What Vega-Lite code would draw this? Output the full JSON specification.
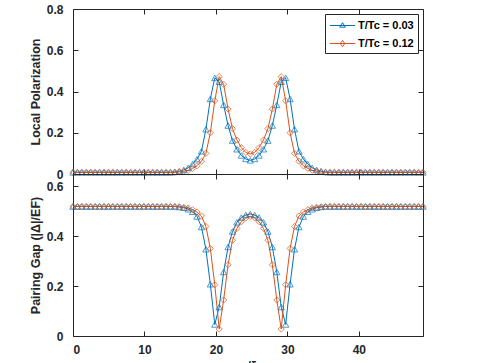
{
  "$schema": "https://vega.github.io/schema/vega-lite/v6.json",
  "background": "white",
  "padding": {"left": 28, "top": 2, "right": 0, "bottom": 0},
  "bounds": "flush",
  "spacing": 0,
  "config": {
    "font": "Liberation Sans",
    "view": {"stroke": "#262626", "strokeWidth": 1},
    "axis": {"domain": false, "grid": false, "tickSize": -5, "tickColor": "#262626", "tickWidth": 1,
      "labelFont": "Liberation Sans", "labelFontSize": 12, "labelFontWeight": "bold", "labelColor": "#262626",
      "titleFont": "Liberation Sans", "titleFontSize": 12.5, "titleFontWeight": "bold", "titleColor": "#262626"},
    "axisY": {"labelPadding": 15, "titlePadding": 4},
    "axisX": {"labelPadding": 13, "titlePadding": 4}
  },
  "data": {"values": [
    {"x":0,"series":"T/Tc = 0.03","pol":0.008,"gap":0.518},
    {"x":0.62,"series":"T/Tc = 0.03","pol":0.008,"gap":0.518},
    {"x":1.24,"series":"T/Tc = 0.03","pol":0.008,"gap":0.518},
    {"x":1.86,"series":"T/Tc = 0.03","pol":0.008,"gap":0.518},
    {"x":2.48,"series":"T/Tc = 0.03","pol":0.008,"gap":0.518},
    {"x":3.1,"series":"T/Tc = 0.03","pol":0.008,"gap":0.518},
    {"x":3.72,"series":"T/Tc = 0.03","pol":0.008,"gap":0.518},
    {"x":4.34,"series":"T/Tc = 0.03","pol":0.008,"gap":0.518},
    {"x":4.96,"series":"T/Tc = 0.03","pol":0.008,"gap":0.518},
    {"x":5.58,"series":"T/Tc = 0.03","pol":0.008,"gap":0.518},
    {"x":6.2,"series":"T/Tc = 0.03","pol":0.008,"gap":0.518},
    {"x":6.82,"series":"T/Tc = 0.03","pol":0.008,"gap":0.518},
    {"x":7.44,"series":"T/Tc = 0.03","pol":0.008,"gap":0.518},
    {"x":8.06,"series":"T/Tc = 0.03","pol":0.008,"gap":0.518},
    {"x":8.68,"series":"T/Tc = 0.03","pol":0.008,"gap":0.518},
    {"x":9.3,"series":"T/Tc = 0.03","pol":0.008,"gap":0.518},
    {"x":9.92,"series":"T/Tc = 0.03","pol":0.008,"gap":0.518},
    {"x":10.54,"series":"T/Tc = 0.03","pol":0.008,"gap":0.518},
    {"x":11.16,"series":"T/Tc = 0.03","pol":0.008,"gap":0.518},
    {"x":11.78,"series":"T/Tc = 0.03","pol":0.008,"gap":0.518},
    {"x":12.4,"series":"T/Tc = 0.03","pol":0.008,"gap":0.518},
    {"x":13.02,"series":"T/Tc = 0.03","pol":0.008,"gap":0.518},
    {"x":13.64,"series":"T/Tc = 0.03","pol":0.008,"gap":0.518},
    {"x":14.26,"series":"T/Tc = 0.03","pol":0.010,"gap":0.518},
    {"x":14.88,"series":"T/Tc = 0.03","pol":0.014,"gap":0.516},
    {"x":15.5,"series":"T/Tc = 0.03","pol":0.020,"gap":0.513},
    {"x":16.12,"series":"T/Tc = 0.03","pol":0.030,"gap":0.507},
    {"x":16.74,"series":"T/Tc = 0.03","pol":0.048,"gap":0.497},
    {"x":17.36,"series":"T/Tc = 0.03","pol":0.072,"gap":0.478},
    {"x":17.98,"series":"T/Tc = 0.03","pol":0.110,"gap":0.436},
    {"x":18.6,"series":"T/Tc = 0.03","pol":0.217,"gap":0.347},
    {"x":19.22,"series":"T/Tc = 0.03","pol":0.364,"gap":0.207},
    {"x":19.84,"series":"T/Tc = 0.03","pol":0.466,"gap":0.046},
    {"x":20.46,"series":"T/Tc = 0.03","pol":0.447,"gap":0.116},
    {"x":21.08,"series":"T/Tc = 0.03","pol":0.335,"gap":0.256},
    {"x":21.7,"series":"T/Tc = 0.03","pol":0.235,"gap":0.356},
    {"x":22.32,"series":"T/Tc = 0.03","pol":0.162,"gap":0.418},
    {"x":22.94,"series":"T/Tc = 0.03","pol":0.120,"gap":0.455},
    {"x":23.56,"series":"T/Tc = 0.03","pol":0.090,"gap":0.474},
    {"x":24.18,"series":"T/Tc = 0.03","pol":0.073,"gap":0.484},
    {"x":24.8,"series":"T/Tc = 0.03","pol":0.066,"gap":0.488},
    {"x":25.42,"series":"T/Tc = 0.03","pol":0.073,"gap":0.484},
    {"x":26.04,"series":"T/Tc = 0.03","pol":0.090,"gap":0.474},
    {"x":26.66,"series":"T/Tc = 0.03","pol":0.120,"gap":0.455},
    {"x":27.28,"series":"T/Tc = 0.03","pol":0.162,"gap":0.418},
    {"x":27.9,"series":"T/Tc = 0.03","pol":0.235,"gap":0.356},
    {"x":28.52,"series":"T/Tc = 0.03","pol":0.335,"gap":0.256},
    {"x":29.14,"series":"T/Tc = 0.03","pol":0.447,"gap":0.116},
    {"x":29.76,"series":"T/Tc = 0.03","pol":0.466,"gap":0.046},
    {"x":30.38,"series":"T/Tc = 0.03","pol":0.364,"gap":0.207},
    {"x":31,"series":"T/Tc = 0.03","pol":0.217,"gap":0.347},
    {"x":31.62,"series":"T/Tc = 0.03","pol":0.110,"gap":0.436},
    {"x":32.24,"series":"T/Tc = 0.03","pol":0.072,"gap":0.478},
    {"x":32.86,"series":"T/Tc = 0.03","pol":0.048,"gap":0.497},
    {"x":33.48,"series":"T/Tc = 0.03","pol":0.030,"gap":0.507},
    {"x":34.1,"series":"T/Tc = 0.03","pol":0.020,"gap":0.513},
    {"x":34.72,"series":"T/Tc = 0.03","pol":0.014,"gap":0.516},
    {"x":35.34,"series":"T/Tc = 0.03","pol":0.010,"gap":0.518},
    {"x":35.96,"series":"T/Tc = 0.03","pol":0.008,"gap":0.518},
    {"x":36.58,"series":"T/Tc = 0.03","pol":0.008,"gap":0.518},
    {"x":37.2,"series":"T/Tc = 0.03","pol":0.008,"gap":0.518},
    {"x":37.82,"series":"T/Tc = 0.03","pol":0.008,"gap":0.518},
    {"x":38.44,"series":"T/Tc = 0.03","pol":0.008,"gap":0.518},
    {"x":39.06,"series":"T/Tc = 0.03","pol":0.008,"gap":0.518},
    {"x":39.68,"series":"T/Tc = 0.03","pol":0.008,"gap":0.518},
    {"x":40.3,"series":"T/Tc = 0.03","pol":0.008,"gap":0.518},
    {"x":40.92,"series":"T/Tc = 0.03","pol":0.008,"gap":0.518},
    {"x":41.54,"series":"T/Tc = 0.03","pol":0.008,"gap":0.518},
    {"x":42.16,"series":"T/Tc = 0.03","pol":0.008,"gap":0.518},
    {"x":42.78,"series":"T/Tc = 0.03","pol":0.008,"gap":0.518},
    {"x":43.4,"series":"T/Tc = 0.03","pol":0.008,"gap":0.518},
    {"x":44.02,"series":"T/Tc = 0.03","pol":0.008,"gap":0.518},
    {"x":44.64,"series":"T/Tc = 0.03","pol":0.008,"gap":0.518},
    {"x":45.26,"series":"T/Tc = 0.03","pol":0.008,"gap":0.518},
    {"x":45.88,"series":"T/Tc = 0.03","pol":0.008,"gap":0.518},
    {"x":46.5,"series":"T/Tc = 0.03","pol":0.008,"gap":0.518},
    {"x":47.12,"series":"T/Tc = 0.03","pol":0.008,"gap":0.518},
    {"x":47.74,"series":"T/Tc = 0.03","pol":0.008,"gap":0.518},
    {"x":48.36,"series":"T/Tc = 0.03","pol":0.008,"gap":0.518},
    {"x":48.98,"series":"T/Tc = 0.03","pol":0.008,"gap":0.518},
    {"x":0,"series":"T/Tc = 0.12","pol":0.008,"gap":0.518},
    {"x":0.62,"series":"T/Tc = 0.12","pol":0.008,"gap":0.518},
    {"x":1.24,"series":"T/Tc = 0.12","pol":0.008,"gap":0.518},
    {"x":1.86,"series":"T/Tc = 0.12","pol":0.008,"gap":0.518},
    {"x":2.48,"series":"T/Tc = 0.12","pol":0.008,"gap":0.518},
    {"x":3.1,"series":"T/Tc = 0.12","pol":0.008,"gap":0.518},
    {"x":3.72,"series":"T/Tc = 0.12","pol":0.008,"gap":0.518},
    {"x":4.34,"series":"T/Tc = 0.12","pol":0.008,"gap":0.518},
    {"x":4.96,"series":"T/Tc = 0.12","pol":0.008,"gap":0.518},
    {"x":5.58,"series":"T/Tc = 0.12","pol":0.008,"gap":0.518},
    {"x":6.2,"series":"T/Tc = 0.12","pol":0.008,"gap":0.518},
    {"x":6.82,"series":"T/Tc = 0.12","pol":0.008,"gap":0.518},
    {"x":7.44,"series":"T/Tc = 0.12","pol":0.008,"gap":0.518},
    {"x":8.06,"series":"T/Tc = 0.12","pol":0.008,"gap":0.518},
    {"x":8.68,"series":"T/Tc = 0.12","pol":0.008,"gap":0.518},
    {"x":9.3,"series":"T/Tc = 0.12","pol":0.008,"gap":0.518},
    {"x":9.92,"series":"T/Tc = 0.12","pol":0.008,"gap":0.518},
    {"x":10.54,"series":"T/Tc = 0.12","pol":0.008,"gap":0.518},
    {"x":11.16,"series":"T/Tc = 0.12","pol":0.008,"gap":0.518},
    {"x":11.78,"series":"T/Tc = 0.12","pol":0.008,"gap":0.518},
    {"x":12.4,"series":"T/Tc = 0.12","pol":0.008,"gap":0.518},
    {"x":13.02,"series":"T/Tc = 0.12","pol":0.008,"gap":0.518},
    {"x":13.64,"series":"T/Tc = 0.12","pol":0.008,"gap":0.518},
    {"x":14.26,"series":"T/Tc = 0.12","pol":0.008,"gap":0.518},
    {"x":14.88,"series":"T/Tc = 0.12","pol":0.010,"gap":0.517},
    {"x":15.5,"series":"T/Tc = 0.12","pol":0.013,"gap":0.515},
    {"x":16.12,"series":"T/Tc = 0.12","pol":0.018,"gap":0.512},
    {"x":16.74,"series":"T/Tc = 0.12","pol":0.027,"gap":0.505},
    {"x":17.36,"series":"T/Tc = 0.12","pol":0.040,"gap":0.496},
    {"x":17.98,"series":"T/Tc = 0.12","pol":0.062,"gap":0.480},
    {"x":18.6,"series":"T/Tc = 0.12","pol":0.100,"gap":0.438},
    {"x":19.22,"series":"T/Tc = 0.12","pol":0.200,"gap":0.350},
    {"x":19.84,"series":"T/Tc = 0.12","pol":0.355,"gap":0.205},
    {"x":20.46,"series":"T/Tc = 0.12","pol":0.472,"gap":0.028},
    {"x":21.08,"series":"T/Tc = 0.12","pol":0.435,"gap":0.144},
    {"x":21.7,"series":"T/Tc = 0.12","pol":0.315,"gap":0.285},
    {"x":22.32,"series":"T/Tc = 0.12","pol":0.220,"gap":0.383},
    {"x":22.94,"series":"T/Tc = 0.12","pol":0.165,"gap":0.430},
    {"x":23.56,"series":"T/Tc = 0.12","pol":0.128,"gap":0.457},
    {"x":24.18,"series":"T/Tc = 0.12","pol":0.105,"gap":0.472},
    {"x":24.8,"series":"T/Tc = 0.12","pol":0.097,"gap":0.478},
    {"x":25.42,"series":"T/Tc = 0.12","pol":0.105,"gap":0.472},
    {"x":26.04,"series":"T/Tc = 0.12","pol":0.128,"gap":0.457},
    {"x":26.66,"series":"T/Tc = 0.12","pol":0.165,"gap":0.430},
    {"x":27.28,"series":"T/Tc = 0.12","pol":0.220,"gap":0.383},
    {"x":27.9,"series":"T/Tc = 0.12","pol":0.315,"gap":0.285},
    {"x":28.52,"series":"T/Tc = 0.12","pol":0.435,"gap":0.144},
    {"x":29.14,"series":"T/Tc = 0.12","pol":0.472,"gap":0.028},
    {"x":29.76,"series":"T/Tc = 0.12","pol":0.355,"gap":0.205},
    {"x":30.38,"series":"T/Tc = 0.12","pol":0.200,"gap":0.350},
    {"x":31,"series":"T/Tc = 0.12","pol":0.100,"gap":0.438},
    {"x":31.62,"series":"T/Tc = 0.12","pol":0.062,"gap":0.480},
    {"x":32.24,"series":"T/Tc = 0.12","pol":0.040,"gap":0.496},
    {"x":32.86,"series":"T/Tc = 0.12","pol":0.027,"gap":0.505},
    {"x":33.48,"series":"T/Tc = 0.12","pol":0.018,"gap":0.512},
    {"x":34.1,"series":"T/Tc = 0.12","pol":0.013,"gap":0.515},
    {"x":34.72,"series":"T/Tc = 0.12","pol":0.010,"gap":0.517},
    {"x":35.34,"series":"T/Tc = 0.12","pol":0.008,"gap":0.518},
    {"x":35.96,"series":"T/Tc = 0.12","pol":0.008,"gap":0.518},
    {"x":36.58,"series":"T/Tc = 0.12","pol":0.008,"gap":0.518},
    {"x":37.2,"series":"T/Tc = 0.12","pol":0.008,"gap":0.518},
    {"x":37.82,"series":"T/Tc = 0.12","pol":0.008,"gap":0.518},
    {"x":38.44,"series":"T/Tc = 0.12","pol":0.008,"gap":0.518},
    {"x":39.06,"series":"T/Tc = 0.12","pol":0.008,"gap":0.518},
    {"x":39.68,"series":"T/Tc = 0.12","pol":0.008,"gap":0.518},
    {"x":40.3,"series":"T/Tc = 0.12","pol":0.008,"gap":0.518},
    {"x":40.92,"series":"T/Tc = 0.12","pol":0.008,"gap":0.518},
    {"x":41.54,"series":"T/Tc = 0.12","pol":0.008,"gap":0.518},
    {"x":42.16,"series":"T/Tc = 0.12","pol":0.008,"gap":0.518},
    {"x":42.78,"series":"T/Tc = 0.12","pol":0.008,"gap":0.518},
    {"x":43.4,"series":"T/Tc = 0.12","pol":0.008,"gap":0.518},
    {"x":44.02,"series":"T/Tc = 0.12","pol":0.008,"gap":0.518},
    {"x":44.64,"series":"T/Tc = 0.12","pol":0.008,"gap":0.518},
    {"x":45.26,"series":"T/Tc = 0.12","pol":0.008,"gap":0.518},
    {"x":45.88,"series":"T/Tc = 0.12","pol":0.008,"gap":0.518},
    {"x":46.5,"series":"T/Tc = 0.12","pol":0.008,"gap":0.518},
    {"x":47.12,"series":"T/Tc = 0.12","pol":0.008,"gap":0.518},
    {"x":47.74,"series":"T/Tc = 0.12","pol":0.008,"gap":0.518},
    {"x":48.36,"series":"T/Tc = 0.12","pol":0.008,"gap":0.518},
    {"x":48.98,"series":"T/Tc = 0.12","pol":0.008,"gap":0.518}
  ]},
  "vconcat": [
    {
      "width": 350, "height": 165,
      "encoding": {
        "x": {"field": "x", "type": "quantitative", "scale": {"domain": [0, 48.98], "nice": false, "zero": false}},
        "y": {"field": "pol", "type": "quantitative", "scale": {"domain": [0, 0.8], "nice": false}},
        "color": {"field": "series", "type": "nominal",
          "scale": {"domain": ["T/Tc = 0.03", "T/Tc = 0.12"], "range": ["#0072BD", "#D95319"]},
          "legend": {"title": null, "orient": "none", "legendX": 252, "legendY": 5,
            "fillColor": "white", "strokeColor": "#262626", "padding": 4,
            "symbolSize": 196, "symbolStrokeWidth": 1, "symbolOffset": 6, "labelFontSize": 11, "labelFont": "Liberation Sans",
            "labelFontWeight": "bold", "labelColor": "black", "rowPadding": 5, "labelOffset": 8,
            "encode": {"symbols": {"update": {
              "shape": {"signal": "datum.value === 'T/Tc = 0.03' ? 'M-1.8,0H1.8M0,-0.42L0.4,0.24L-0.4,0.24Z' : 'M-1.8,0H1.8M0,-0.45L0.32,0L0,0.45L-0.32,0Z'"},
              "fill": {"value": "transparent"}}}}}}
      },
      "layer": [
        {"mark": {"type": "line", "strokeWidth": 1},
          "encoding": {
            "x": {"field": "x", "type": "quantitative", "axis": {"orient": "bottom", "labels": false, "values": [0, 10, 20, 30, 40], "title": null}},
            "y": {"field": "pol", "type": "quantitative", "axis": {"orient": "left", "values": [0, 0.2, 0.4, 0.6, 0.8], "format": "~g", "title": "Local Polarization"}}
          }},
        {"transform": [{"filter": "datum.series === 'T/Tc = 0.03'"}],
          "mark": {"type": "point", "shape": "triangle-up", "filled": false, "size": 40, "strokeWidth": 1},
          "encoding": {
            "x": {"field": "x", "type": "quantitative", "axis": null},
            "y": {"field": "pol", "type": "quantitative", "axis": null}
          }},
        {"transform": [{"filter": "datum.series === 'T/Tc = 0.12'"}],
          "mark": {"type": "point", "shape": "diamond", "filled": false, "size": 38, "strokeWidth": 1},
          "encoding": {
            "x": {"field": "x", "type": "quantitative", "axis": null},
            "y": {"field": "pol", "type": "quantitative", "axis": null}
          }},
        {"data": {"values": [{"label": "a)"}]},
          "mark": {"type": "text", "align": "left", "baseline": "top", "dx": 4, "dy": 4, "fontWeight": "bold", "fontSize": 12, "font": "Liberation Sans"},
          "encoding": {
            "text": {"field": "label"},
            "x": {"datum": 0, "type": "quantitative", "axis": {"orient": "top", "labels": false, "values": [0, 10, 20, 30, 40], "title": null}},
            "y": {"datum": 0.8, "type": "quantitative", "axis": {"orient": "right", "labels": false, "values": [0, 0.2, 0.4, 0.6, 0.8], "title": null}},
            "color": {"value": "black"}
          }}
      ],
      "resolve": {"axis": {"x": "independent", "y": "independent"}}
    },
    {
      "width": 350, "height": 162,
      "encoding": {
        "x": {"field": "x", "type": "quantitative", "scale": {"domain": [0, 48.98], "nice": false, "zero": false}},
        "y": {"field": "gap", "type": "quantitative", "scale": {"domain": [0, 0.648], "nice": false}},
        "color": {"field": "series", "type": "nominal",
          "scale": {"domain": ["T/Tc = 0.03", "T/Tc = 0.12"], "range": ["#0072BD", "#D95319"]}, "legend": null}
      },
      "layer": [
        {"mark": {"type": "line", "strokeWidth": 1},
          "encoding": {
            "x": {"field": "x", "type": "quantitative", "axis": {"orient": "bottom", "values": [0, 10, 20, 30, 40], "title": "x/ξ"}},
            "y": {"field": "gap", "type": "quantitative", "axis": {"orient": "left", "values": [0, 0.2, 0.4, 0.6], "format": "~g", "title": "Pairing Gap (|Δ|/EF)"}}
          }},
        {"transform": [{"filter": "datum.series === 'T/Tc = 0.03'"}],
          "mark": {"type": "point", "shape": "triangle-up", "filled": false, "size": 40, "strokeWidth": 1},
          "encoding": {
            "x": {"field": "x", "type": "quantitative", "axis": null},
            "y": {"field": "gap", "type": "quantitative", "axis": null}
          }},
        {"transform": [{"filter": "datum.series === 'T/Tc = 0.12'"}],
          "mark": {"type": "point", "shape": "diamond", "filled": false, "size": 38, "strokeWidth": 1},
          "encoding": {
            "x": {"field": "x", "type": "quantitative", "axis": null},
            "y": {"field": "gap", "type": "quantitative", "axis": null}
          }},
        {"data": {"values": [{"label": "b)"}]},
          "mark": {"type": "text", "align": "left", "baseline": "top", "dx": 4, "dy": 4, "fontWeight": "bold", "fontSize": 12, "font": "Liberation Sans"},
          "encoding": {
            "text": {"field": "label"},
            "x": {"datum": 0, "type": "quantitative", "axis": {"orient": "top", "labels": false, "values": [0, 10, 20, 30, 40], "title": null}},
            "y": {"datum": 0.648, "type": "quantitative", "axis": {"orient": "right", "labels": false, "values": [0, 0.2, 0.4, 0.6], "title": null}},
            "color": {"value": "black"}
          }}
      ],
      "resolve": {"axis": {"x": "independent", "y": "independent"}}
    }
  ],
  "resolve": {"scale": {"color": "independent"}, "legend": {"color": "independent"}}
}
